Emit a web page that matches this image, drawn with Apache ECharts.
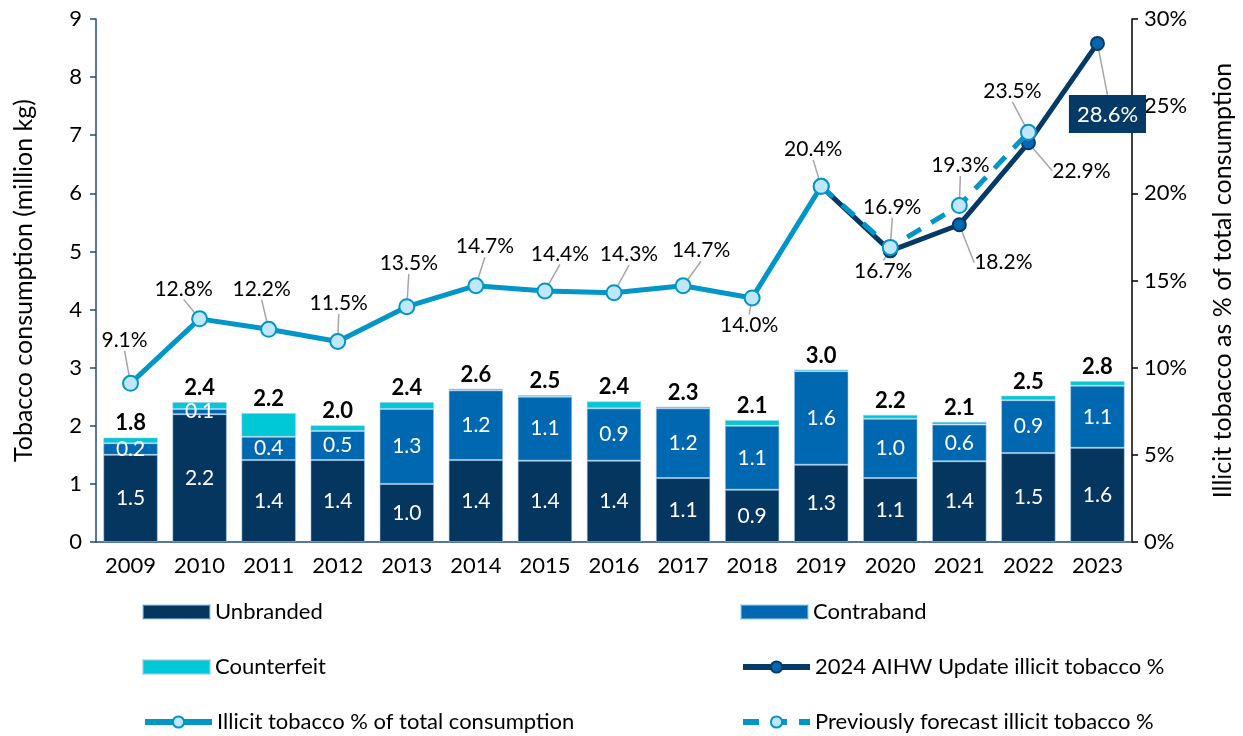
<!DOCTYPE html>
<html>
<head>
<meta charset="utf-8" />
<title>Illicit tobacco</title>
<script src="https://cdn.jsdelivr.net/npm/echarts@6/dist/echarts.min.js"></script>
<style>
  html, body { margin: 0; padding: 0; background: #fff; }
  #chart { width: 1243px; height: 736px; }
</style>
</head>
<body>
<div id="chart"></div>
<script>
// --- data ---
const years = ['2009','2010','2011','2012','2013','2014','2015','2016','2017','2018','2019','2020','2021','2022','2023'];
const unbranded   = [1.50, 2.20, 1.41, 1.41, 1.00, 1.41, 1.40, 1.40, 1.10, 0.90, 1.33, 1.10, 1.39, 1.53, 1.62];
const contraband  = [0.20, 0.09, 0.40, 0.50, 1.29, 1.20, 1.10, 0.90, 1.20, 1.10, 1.61, 1.02, 0.63, 0.91, 1.07];
const counterfeit = [0.10, 0.12, 0.41, 0.10, 0.12, 0.03, 0.03, 0.12, 0.03, 0.10, 0.03, 0.07, 0.05, 0.08, 0.08];
const illicitPct  = [9.1, 12.8, 12.2, 11.5, 13.5, 14.7, 14.4, 14.3, 14.7, 14.0, 20.4, null, null, null, null];
const aihwPct     = [null, null, null, null, null, null, null, null, null, null, 20.4, 16.7, 18.2, 22.9, 28.6];
const forecastPct = [null, null, null, null, null, null, null, null, null, null, 20.4, 16.9, 19.3, 23.5, null];

const totals = unbranded.map((u, i) => u + contraband[i] + counterfeit[i]);

// label nudges (pixels) for the percentage labels
const illicitShift  = [[-6,-19],[-16,-6],[-7,-16],[1,-14],[2,-19],[9,-15],[15,-13],[15,-14],[18,-11],[-3,51],[-8,-13]];
const aihwShift     = {11: [-7, 43], 12: [44, 61], 13: [53, 51], 14: [10, 102]};
const forecastShift = {11: [2, -16], 12: [1, -16], 13: [-16, -17]};

const FONT = 'Lato';
const C_UNB = '#04365f', C_CON = '#0068b0', C_CTF = '#00c8d4';
const C_LIGHT = '#0096c8', C_DARK = '#063a66';

const chart = echarts.init(document.getElementById('chart'));

const segLabel = {
  show: true, color: '#fff', fontFamily: FONT, fontSize: 21,
  formatter: p => p.value.toFixed(1)
};
const barBase = {
  type: 'bar', stack: 'total', barCategoryGap: '21%',
  itemStyle: { borderColor: 'rgba(160,200,235,0.55)', borderWidth: 1 }
};
const pctLabel = {
  show: true, color: '#000', fontFamily: FONT, fontSize: 21,
  formatter: p => p.value.toFixed(1) + '%'
};
const leader = { show: true, lineStyle: { color: '#a6a6a6', width: 1.5 } };

// one legend per entry: [entry, left, top]
const legendSlots = [
  [{ name: 'Unbranded', icon: 'rect' }, 142, 601],
  [{ name: 'Contraband', icon: 'rect' }, 740, 601],
  [{ name: 'Counterfeit', icon: 'rect' }, 142, 656],
  [{ name: '2024 AIHW Update illicit tobacco %', lineStyle: { width: 6 } }, 740, 656],
  [{ name: 'Illicit tobacco % of total consumption', lineStyle: { width: 6 } }, 142, 711],
  [{ name: 'Previously forecast illicit tobacco %', lineStyle: { width: 6 } }, 740, 711]
];

chart.setOption({
  animation: false,
  textStyle: { fontFamily: FONT },
  grid: { left: 96, right: 105, top: 19, bottom: 194 },
  legend: legendSlots.map(([item, left, top]) => ({
    left: left, top: top, padding: 0,
    itemWidth: 67, itemHeight: 14,
    textStyle: { fontSize: 22, color: '#000', fontFamily: FONT },
    data: [item]
  })),
  xAxis: {
    type: 'category', data: years,
    axisLine: { lineStyle: { color: '#1f4e79', width: 1.5 } },
    axisTick: { lineStyle: { color: '#1f4e79', width: 1.5 }, length: 6 },
    axisLabel: { color: '#000', fontSize: 22, margin: 13, fontFamily: FONT }
  },
  yAxis: [
    {
      type: 'value', min: 0, max: 9, interval: 1,
      name: 'Tobacco consumption (million kg)', nameLocation: 'middle', nameGap: 60,
      nameTextStyle: { fontSize: 25, color: '#000', fontFamily: FONT },
      axisLine: { show: true, lineStyle: { color: '#1f4e79', width: 1.5 } },
      axisTick: { show: true, lineStyle: { color: '#1f4e79', width: 1.5 }, length: 6 },
      axisLabel: { color: '#000', fontSize: 22, margin: 14, fontFamily: FONT },
      splitLine: { show: false }
    },
    {
      type: 'value', min: 0, max: 30, interval: 5, position: 'right',
      name: 'Illicit tobacco as % of total consumption', nameLocation: 'middle', nameGap: 78,
      nameRotate: 90,
      nameTextStyle: { fontSize: 25, color: '#000', fontFamily: FONT },
      axisLine: { show: true, lineStyle: { color: '#000', width: 1.5 } },
      axisTick: { show: true, lineStyle: { color: '#000', width: 1.5 }, length: 6 },
      axisLabel: { color: '#000', fontSize: 22, margin: 12, fontFamily: FONT, formatter: '{value}%' },
      splitLine: { show: false }
    }
  ],
  series: [
    Object.assign({}, barBase, {
      name: 'Unbranded', data: unbranded,
      itemStyle: Object.assign({}, barBase.itemStyle, { color: C_UNB }),
      label: segLabel
    }),
    Object.assign({}, barBase, {
      name: 'Contraband', data: contraband,
      itemStyle: Object.assign({}, barBase.itemStyle, { color: C_CON }),
      label: Object.assign({}, segLabel, { position: 'inside' })
    }),
    Object.assign({}, barBase, {
      name: 'Counterfeit', data: counterfeit,
      itemStyle: Object.assign({}, barBase.itemStyle, { color: C_CTF }),
      label: {
        show: true, position: 'top', distance: 3, color: '#000',
        fontFamily: FONT, fontSize: 22, fontWeight: 'bold',
        formatter: p => totals[p.dataIndex].toFixed(1)
      }
    }),
    {
      name: '2024 AIHW Update illicit tobacco %', type: 'line', yAxisIndex: 1, z: 3,
      data: aihwPct.map((v, i) => {
        if (i === 10) return { value: v, symbol: 'none', label: { show: false } };
        if (i === 14) return {
          value: v,
          label: { color: '#fff', backgroundColor: '#063a66', padding: [9, 8, 7, 8], fontSize: 22 }
        };
        return v;
      }),
      symbol: 'circle', symbolSize: 13, showSymbol: true,
      lineStyle: { color: C_DARK, width: 5 },
      itemStyle: { color: C_CON, borderColor: C_DARK, borderWidth: 2 },
      label: pctLabel,
      labelLine: leader,
      labelLayout: p => {
        const s = aihwShift[p.dataIndex];
        return s ? { dx: s[0], dy: s[1] } : {};
      }
    },
    {
      name: 'Previously forecast illicit tobacco %', type: 'line', yAxisIndex: 1, z: 4,
      data: forecastPct.map((v, i) => (i === 10 ? { value: v, label: { show: false } } : v)),
      symbol: 'circle', symbolSize: 15,
      lineStyle: { color: C_LIGHT, width: 5, type: [16, 12] },
      itemStyle: { color: '#bfe6fa', borderColor: C_LIGHT, borderWidth: 2 },
      label: pctLabel,
      labelLine: leader,
      labelLayout: p => {
        const s = forecastShift[p.dataIndex];
        return s ? { dx: s[0], dy: s[1] } : {};
      }
    },
    {
      name: 'Illicit tobacco % of total consumption', type: 'line', yAxisIndex: 1, z: 5,
      data: illicitPct,
      symbol: 'circle', symbolSize: 15,
      lineStyle: { color: C_LIGHT, width: 5 },
      itemStyle: { color: '#bfe6fa', borderColor: C_LIGHT, borderWidth: 2 },
      label: pctLabel,
      labelLine: leader,
      labelLayout: p => {
        const s = illicitShift[p.dataIndex];
        return s ? { dx: s[0], dy: s[1] } : {};
      }
    }
  ]
});
</script>
</body>
</html>
